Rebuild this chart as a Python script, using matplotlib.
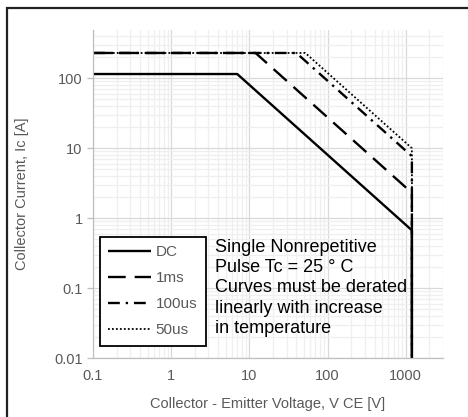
import matplotlib
matplotlib.use("Agg")
import matplotlib.pyplot as plt
from matplotlib.patches import Rectangle
from matplotlib.ticker import LogLocator, FixedLocator, FixedFormatter, NullFormatter

plt.rcParams['font.family'] = ['Liberation Sans', 'DejaVu Sans']

# Data
vce_dc = [0.1, 7, 1200, 1200]
ic_dc = [115, 115, 0.67, 0.01]
vce_1ms = [0.1, 12, 1200, 1200]
ic_1ms = [230, 230, 2.3, 0.01]
vce_100us = [0.1, 40, 1200, 1200]
ic_100us = [230, 230, 7.7, 0.01]
vce_50us = [0.1, 52, 1200, 1200]
ic_50us = [230, 230, 10, 0.01]

labels = ["DC", "1ms", "100us", "50us"]
x_ticks = [0.1, 1, 10, 100, 1000]
x_ticklabels = ["0.1", "1", "10", "100", "1000"]
y_ticks = [0.01, 0.1, 1, 10, 100]
y_ticklabels = ["0.01", "0.1", "1", "10", "100"]

W, H = 468, 417
fig = plt.figure(figsize=(W / 100, H / 100), dpi=100)
ax = fig.add_axes([93 / W, (H - 358) / H, (443 - 93) / W, (358 - 30) / H])

gray = "#595959"
lw = 1.7
l1, = ax.plot(vce_dc, ic_dc, color="black", lw=lw, solid_capstyle="butt", label=labels[0])
l2, = ax.plot(vce_1ms, ic_1ms, color="black", lw=lw, linestyle=(0, (7.5, 3.8)), dash_capstyle="butt", label=labels[1])
l3, = ax.plot(vce_100us, ic_100us, color="black", lw=lw, linestyle=(0, (5, 2.5, 1, 2.5)), dash_capstyle="butt", label=labels[2])
l4, = ax.plot(vce_50us, ic_50us, color="black", lw=1.3, linestyle=(0, (1, 1.2)), dash_capstyle="butt", label=labels[3])

ax.set_xscale("log")
ax.set_yscale("log")
ax.set_xlim(0.1, 3000)
ax.set_ylim(0.01, 490)

ax.xaxis.set_major_locator(FixedLocator(x_ticks))
ax.xaxis.set_major_formatter(FixedFormatter(x_ticklabels))
ax.yaxis.set_major_locator(FixedLocator(y_ticks))
ax.yaxis.set_major_formatter(FixedFormatter(y_ticklabels))
ax.xaxis.set_minor_locator(LogLocator(base=10, subs=range(2, 10), numticks=20))
ax.yaxis.set_minor_locator(LogLocator(base=10, subs=range(2, 10), numticks=20))
ax.xaxis.set_minor_formatter(NullFormatter())
ax.yaxis.set_minor_formatter(NullFormatter())

ax.grid(True, which="major", color="#d9d9d9", lw=0.9)
ax.grid(True, which="minor", color="#efefef", lw=0.9)
ax.set_axisbelow(True)

for s in ["top", "right"]:
    ax.spines[s].set_visible(False)
for s in ["left", "bottom"]:
    ax.spines[s].set_color("#bfbfbf")
    ax.spines[s].set_linewidth(0.9)

ax.tick_params(axis="both", which="major", colors="#bfbfbf", labelcolor=gray,
               labelsize=10.5, length=4, width=0.9)
ax.tick_params(axis="x", which="major", length=0, pad=8)
ax.tick_params(axis="both", which="minor", length=0)

ax.set_xlabel("Collector - Emitter Voltage, V CE [V]", color=gray, fontsize=10.5, labelpad=10)
ax.set_ylabel("Collector Current, Ic [A]", color=gray, fontsize=10.5, labelpad=18)

leg = ax.legend(handles=[l1, l2, l3, l4], loc="upper left",
                bbox_to_anchor=(100 / W, (H - 237) / H), bbox_transform=fig.transFigure,
                fontsize=11, frameon=True, fancybox=False, handlelength=2.8,
                handletextpad=0.3, labelspacing=0.78, borderpad=0.55, borderaxespad=0)
leg.get_frame().set_edgecolor("black")
leg.get_frame().set_linewidth(1.3)
leg.get_frame().set_alpha(1)
for t in leg.get_texts():
    t.set_color(gray)

fig.text(215 / W, (H - 239) / H,
         "Single Nonrepetitive\nPulse Tc = 25 \u00b0 C\nCurves must be derated\nlinearly with increase\nin temperature",
         ha="left", va="top", fontsize=13, color="black", linespacing=1.25)

fig.patches.append(Rectangle((7 / W, -0.1), 1.2, (H - 8) / H + 0.1, transform=fig.transFigure,
                             fill=False, edgecolor="#222222", lw=1.6, clip_on=False))

fig.savefig("out.png", dpi=100)
